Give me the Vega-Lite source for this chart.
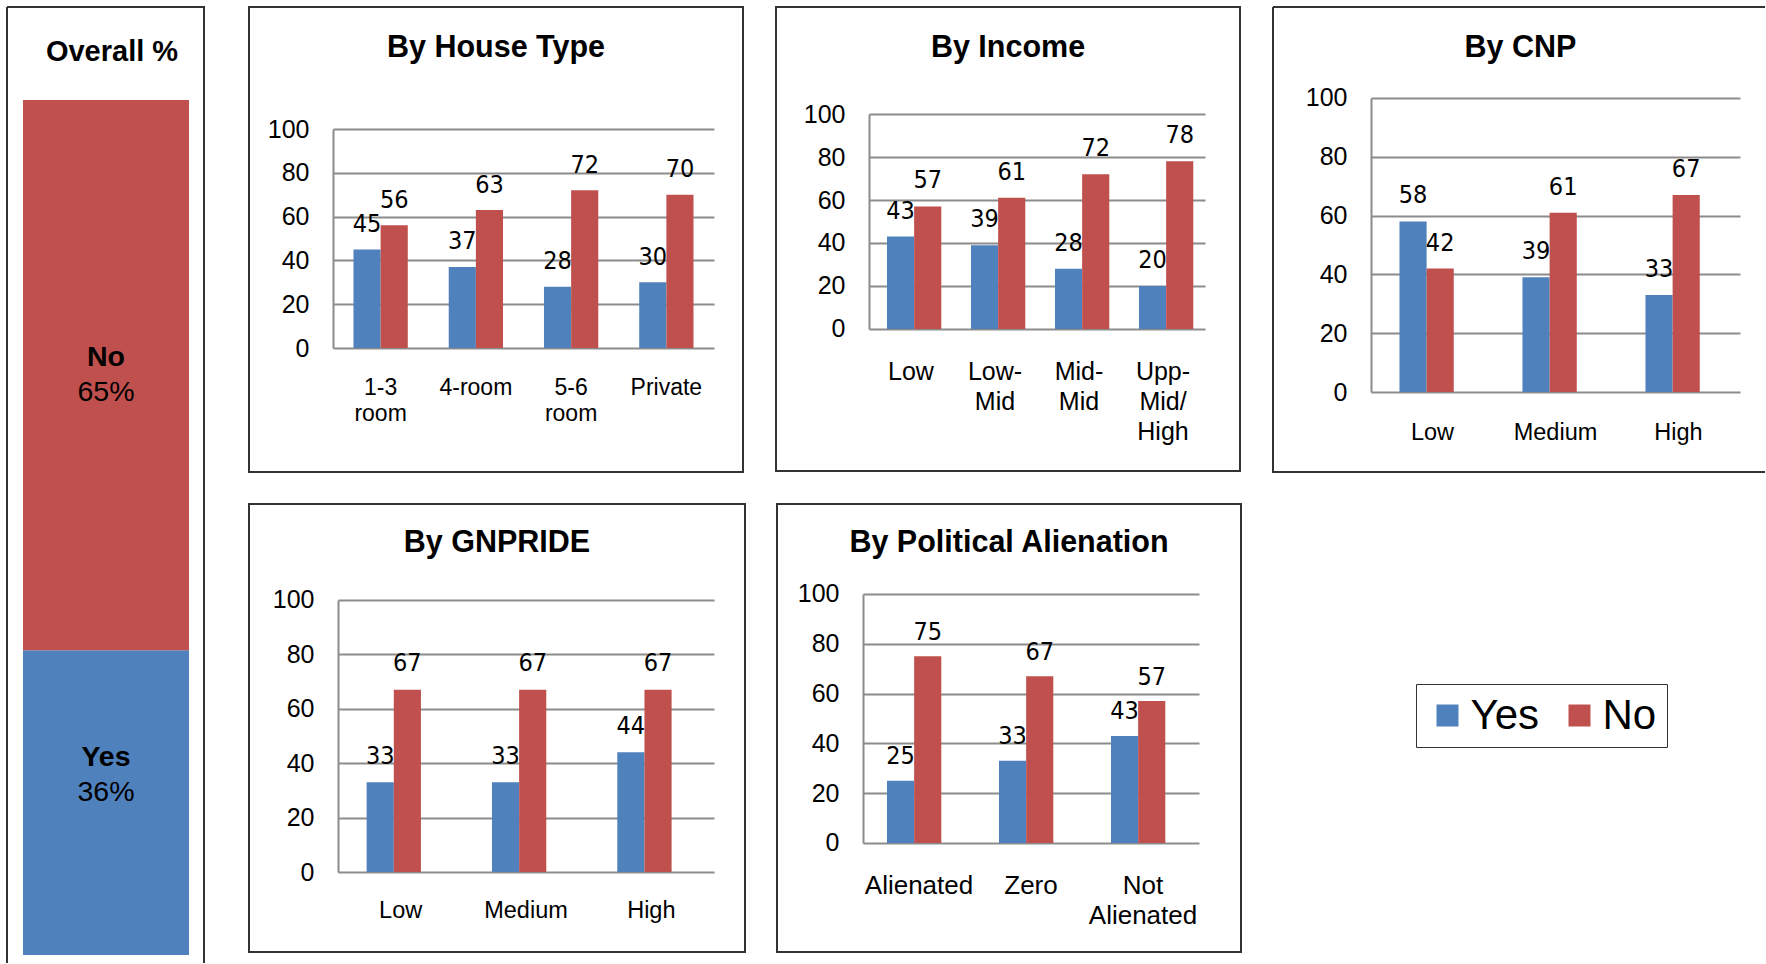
{
  "$schema": "https://vega.github.io/schema/vega-lite/v6.json",
  "padding": {"left": 6, "top": 6, "right": 0, "bottom": 0},
  "background": "white",
  "config": {
    "view": {"stroke": null},
    "font": "Liberation Sans",
    "axis": {"domainColor": "#8c8c8c", "domainWidth": 2, "gridColor": "#8c8c8c", "gridWidth": 2, "ticks": false, "tickSize": 0, "labelColor": "#000", "labelFont": "Liberation Sans", "labelFontSize": 25, "labelOverlap": false, "title": null},
    "axisY": {"labelPadding": 24, "grid": true},
    "axisX": {"labelAngle": 0, "grid": false, "domain": false},
    "legend": {"direction": "horizontal", "symbolType": "square", "symbolSize": 484, "symbolStrokeWidth": 0, "labelFont": "Liberation Sans", "labelFontSize": 42, "labelColor": "#000", "labelOffset": 2, "columnPadding": 19, "padding": 10.5, "strokeColor": "#333333"}
  },
  "datasets": {
    "bars": [
      {"panel": "house", "category": "1-3 room", "series": "Yes", "value": 45},
      {"panel": "house", "category": "1-3 room", "series": "No", "value": 56},
      {"panel": "house", "category": "4-room", "series": "Yes", "value": 37},
      {"panel": "house", "category": "4-room", "series": "No", "value": 63},
      {"panel": "house", "category": "5-6 room", "series": "Yes", "value": 28},
      {"panel": "house", "category": "5-6 room", "series": "No", "value": 72},
      {"panel": "house", "category": "Private", "series": "Yes", "value": 30},
      {"panel": "house", "category": "Private", "series": "No", "value": 70},
      {"panel": "income", "category": "Low", "series": "Yes", "value": 43},
      {"panel": "income", "category": "Low", "series": "No", "value": 57},
      {"panel": "income", "category": "Low-Mid", "series": "Yes", "value": 39},
      {"panel": "income", "category": "Low-Mid", "series": "No", "value": 61},
      {"panel": "income", "category": "Mid-Mid", "series": "Yes", "value": 28},
      {"panel": "income", "category": "Mid-Mid", "series": "No", "value": 72},
      {"panel": "income", "category": "Upp-Mid/High", "series": "Yes", "value": 20},
      {"panel": "income", "category": "Upp-Mid/High", "series": "No", "value": 78},
      {"panel": "cnp", "category": "Low", "series": "Yes", "value": 58},
      {"panel": "cnp", "category": "Low", "series": "No", "value": 42},
      {"panel": "cnp", "category": "Medium", "series": "Yes", "value": 39},
      {"panel": "cnp", "category": "Medium", "series": "No", "value": 61},
      {"panel": "cnp", "category": "High", "series": "Yes", "value": 33},
      {"panel": "cnp", "category": "High", "series": "No", "value": 67},
      {"panel": "gnpride", "category": "Low", "series": "Yes", "value": 33},
      {"panel": "gnpride", "category": "Low", "series": "No", "value": 67},
      {"panel": "gnpride", "category": "Medium", "series": "Yes", "value": 33},
      {"panel": "gnpride", "category": "Medium", "series": "No", "value": 67},
      {"panel": "gnpride", "category": "High", "series": "Yes", "value": 44},
      {"panel": "gnpride", "category": "High", "series": "No", "value": 67},
      {"panel": "political", "category": "Alienated", "series": "Yes", "value": 25},
      {"panel": "political", "category": "Alienated", "series": "No", "value": 75},
      {"panel": "political", "category": "Zero", "series": "Yes", "value": 33},
      {"panel": "political", "category": "Zero", "series": "No", "value": 67},
      {"panel": "political", "category": "Not Alienated", "series": "Yes", "value": 43},
      {"panel": "political", "category": "Not Alienated", "series": "No", "value": 57}
    ],
    "overall": [
      {"category": "Overall", "series": "Yes", "value": 36},
      {"category": "Overall", "series": "No", "value": 65}
    ]
  },
  "spacing": 43,
  "hconcat": [
    {
      "width": 197,
      "height": 956,
      "view": {"stroke": "#333333", "strokeWidth": 2, "strokeDash": [1153, 197, 956, 0]},
      "layer": [
        {
          "data": {"values": [{"title": "Overall %"}]},
          "mark": {"type": "text", "fontSize": 29, "fontWeight": "bold", "baseline": "middle", "align": "center", "dx": 6.5},
          "encoding": {"y": {"datum": 106.67, "type": "quantitative", "scale": {"domain": [-0.945, 111.99], "nice": false, "zero": false}, "axis": null}, "text": {"field": "title"}}
        },
        {
          "data": {"name": "overall"},
          "transform": [{"stack": "value", "groupby": ["category"], "sort": [{"field": "series", "order": "descending"}], "as": ["v0", "v1"]}],
          "encoding": {
            "x": {"field": "category", "type": "nominal", "scale": {"paddingInner": 0, "paddingOuter": 0.0934, "align": 0.516}, "axis": null},
            "y": {"field": "v1", "type": "quantitative", "scale": {"domain": [-0.945, 111.99], "nice": false, "zero": false}, "axis": null}
          },
          "layer": [
            {"mark": "bar", "encoding": {"y2": {"field": "v0"}, "color": {"field": "series", "type": "nominal", "scale": {"domain": ["Yes", "No"], "range": ["#4F81BD", "#C0504D"]}, "legend": {"title": null, "orient": "none", "legendX": 1409, "legendY": 677}}}},
            {"transform": [{"filter": "datum.series == 'No'"}], "mark": {"type": "text", "fontSize": 28.5, "fontWeight": "bold", "baseline": "middle", "dy": 257}, "encoding": {"text": {"field": "series"}}},
            {"transform": [{"filter": "datum.series == 'No'"}], "mark": {"type": "text", "fontSize": 28.5, "baseline": "middle", "dy": 292, "text": {"expr": "datum.value + '%'"}}},
            {"transform": [{"filter": "datum.series == 'Yes'"}], "mark": {"type": "text", "fontSize": 28.5, "fontWeight": "bold", "baseline": "middle", "dy": 107}, "encoding": {"text": {"field": "series"}}},
            {"transform": [{"filter": "datum.series == 'Yes'"}], "mark": {"type": "text", "fontSize": 28.5, "baseline": "middle", "dy": 142, "text": {"expr": "datum.value + '%'"}}}
          ]
        }
      ]
    },
    {
      "spacing": 30,
      "vconcat": [
        {
          "spacing": 31,
          "hconcat": [
            {
              "width": 494,
              "height": 465,
              "view": {"stroke": "#333333", "strokeWidth": 2},
              "layer": [
                {
                  "data": {"values": [{"title": "By House Type"}]},
                  "mark": {"type": "text", "fontSize": 30.5, "fontWeight": "bold", "baseline": "middle", "align": "center"},
                  "encoding": {"y": {"datum": 136.99, "type": "quantitative", "scale": {"domain": [-56.62, 155.71], "nice": false, "zero": false}}, "text": {"field": "title"}}
                },
                {
                  "data": {"name": "bars"},
                  "transform": [{"filter": "datum.panel == 'house'"}],
                  "encoding": {
                    "x": {"field": "category", "type": "nominal", "sort": ["1-3 room", "4-room", "5-6 room", "Private"], "scale": {"paddingInner": 0.43, "paddingOuter": 0.8082, "align": 0.6786}, "axis": {"labelExpr": "split(datum.value, ' ')", "labelFontSize": 23, "labelLineHeight": 26, "labelPadding": 28, "offset": -124}},
                    "xOffset": {"field": "series", "type": "nominal", "sort": ["Yes", "No"], "scale": {"paddingInner": 0}},
                    "y": {"field": "value", "type": "quantitative", "scale": {"domain": [-56.62, 155.71], "nice": false, "zero": false}, "axis": {"values": [0, 20, 40, 60, 80, 100], "offset": -84, "gridDash": [0, 84, 381, 2000], "domainDash": [0, 124, 219, 2000]}}
                  },
                  "layer": [
                    {"mark": "bar", "encoding": {"color": {"field": "series", "type": "nominal", "scale": {"domain": ["Yes", "No"], "range": ["#4F81BD", "#C0504D"]}, "legend": {"title": null, "orient": "none", "legendX": 1409, "legendY": 677}}}},
                    {"mark": {"type": "text", "font": "'Liberation Sans Narrow', 'DejaVu Sans Condensed', 'Liberation Sans', sans-serif", "fontSize": 25, "baseline": "alphabetic", "dy": -17.5}, "encoding": {"text": {"field": "value", "type": "quantitative"}}}
                  ]
                }
              ]
            },
            {
              "width": 464,
              "height": 464,
              "view": {"stroke": "#333333", "strokeWidth": 2},
              "layer": [
                {
                  "data": {"values": [{"title": "By Income"}]},
                  "mark": {"type": "text", "fontSize": 30.5, "fontWeight": "bold", "baseline": "middle", "align": "center"},
                  "encoding": {"y": {"datum": 130.7, "type": "quantitative", "scale": {"domain": [-66.05, 149.77], "nice": false, "zero": false}}, "text": {"field": "title"}}
                },
                {
                  "data": {"name": "bars"},
                  "transform": [{"filter": "datum.panel == 'income'"}],
                  "encoding": {
                    "x": {"field": "category", "type": "nominal", "sort": ["Low", "Low-Mid", "Mid-Mid", "Upp-Mid/High"], "scale": {"paddingInner": 0.4286, "paddingOuter": 0.9762, "align": 0.6768}, "axis": {"labelExpr": "split(replace(replace(datum.value, '-', '-|'), '/', '/|'), '|')", "labelFontSize": 25, "labelLineHeight": 30, "labelPadding": 30, "offset": -142}},
                    "xOffset": {"field": "series", "type": "nominal", "sort": ["Yes", "No"], "scale": {"paddingInner": 0}},
                    "y": {"field": "value", "type": "quantitative", "scale": {"domain": [-66.05, 149.77], "nice": false, "zero": false}, "axis": {"values": [0, 20, 40, 60, 80, 100], "offset": -93, "gridDash": [0, 93, 336, 2000], "domainDash": [0, 142, 215, 2000]}}
                  },
                  "layer": [
                    {"mark": "bar", "encoding": {"color": {"field": "series", "type": "nominal", "scale": {"domain": ["Yes", "No"], "range": ["#4F81BD", "#C0504D"]}, "legend": {"title": null, "orient": "none", "legendX": 1409, "legendY": 677}}}},
                    {"mark": {"type": "text", "font": "'Liberation Sans Narrow', 'DejaVu Sans Condensed', 'Liberation Sans', sans-serif", "fontSize": 25, "baseline": "alphabetic", "dy": -18}, "encoding": {"text": {"field": "value", "type": "quantitative"}}}
                  ]
                }
              ]
            },
            {
              "width": 492,
              "height": 465,
              "view": {"stroke": "#333333", "strokeWidth": 2, "strokeDash": [492, 465, 957, 0]},
              "layer": [
                {
                  "data": {"values": [{"title": "By CNP"}]},
                  "mark": {"type": "text", "fontSize": 30.5, "fontWeight": "bold", "baseline": "middle", "align": "center", "dx": 1.5},
                  "encoding": {"y": {"datum": 117.0, "type": "quantitative", "scale": {"domain": [-27.21, 130.95], "nice": false, "zero": false}}, "text": {"field": "title"}}
                },
                {
                  "data": {"name": "bars"},
                  "transform": [{"filter": "datum.panel == 'cnp'"}],
                  "encoding": {
                    "x": {"field": "category", "type": "nominal", "sort": ["Low", "Medium", "High"], "scale": {"paddingInner": 0.463, "paddingOuter": 0.7315, "align": 0.7028}, "axis": {"labelFontSize": 23.5, "labelPadding": 28, "offset": -80}},
                    "xOffset": {"field": "series", "type": "nominal", "sort": ["Yes", "No"], "scale": {"paddingInner": 0}},
                    "y": {"field": "value", "type": "quantitative", "scale": {"domain": [-27.21, 130.95], "nice": false, "zero": false}, "axis": {"values": [0, 20, 40, 60, 80, 100], "offset": -98, "gridDash": [0, 98, 369, 2000], "domainDash": [0, 80, 294, 2000]}}
                  },
                  "layer": [
                    {"mark": "bar", "encoding": {"color": {"field": "series", "type": "nominal", "scale": {"domain": ["Yes", "No"], "range": ["#4F81BD", "#C0504D"]}, "legend": {"title": null, "orient": "none", "legendX": 1409, "legendY": 677}}}},
                    {"mark": {"type": "text", "font": "'Liberation Sans Narrow', 'DejaVu Sans Condensed', 'Liberation Sans', sans-serif", "fontSize": 25, "baseline": "alphabetic", "dy": -18}, "encoding": {"text": {"field": "value", "type": "quantitative"}}}
                  ]
                }
              ]
            }
          ]
        },
        {
          "spacing": 30,
          "hconcat": [
            {
              "width": 496,
              "height": 448,
              "view": {"stroke": "#333333", "strokeWidth": 2},
              "layer": [
                {
                  "data": {"values": [{"title": "By GNPRIDE"}]},
                  "mark": {"type": "text", "fontSize": 30.5, "fontWeight": "bold", "baseline": "middle", "align": "center"},
                  "encoding": {"y": {"datum": 120.96, "type": "quantitative", "scale": {"domain": [-29.41, 135.29], "nice": false, "zero": false}}, "text": {"field": "title"}}
                },
                {
                  "data": {"name": "bars"},
                  "transform": [{"filter": "datum.panel == 'gnpride'"}],
                  "encoding": {
                    "x": {"field": "category", "type": "nominal", "sort": ["Low", "Medium", "High"], "scale": {"paddingInner": 0.457, "paddingOuter": 0.7073, "align": 0.6636}, "axis": {"labelFontSize": 23.5, "labelPadding": 26, "offset": -80}},
                    "xOffset": {"field": "series", "type": "nominal", "sort": ["Yes", "No"], "scale": {"paddingInner": 0}},
                    "y": {"field": "value", "type": "quantitative", "scale": {"domain": [-29.41, 135.29], "nice": false, "zero": false}, "axis": {"values": [0, 20, 40, 60, 80, 100], "offset": -89, "gridDash": [0, 89, 376, 2000], "domainDash": [0, 80, 272, 2000]}}
                  },
                  "layer": [
                    {"mark": "bar", "encoding": {"color": {"field": "series", "type": "nominal", "scale": {"domain": ["Yes", "No"], "range": ["#4F81BD", "#C0504D"]}, "legend": {"title": null, "orient": "none", "legendX": 1409, "legendY": 677}}}},
                    {"mark": {"type": "text", "font": "'Liberation Sans Narrow', 'DejaVu Sans Condensed', 'Liberation Sans', sans-serif", "fontSize": 25, "baseline": "alphabetic", "dy": -18.5}, "encoding": {"text": {"field": "value", "type": "quantitative"}}}
                  ]
                }
              ]
            },
            {
              "width": 464,
              "height": 448,
              "view": {"stroke": "#333333", "strokeWidth": 2},
              "layer": [
                {
                  "data": {"values": [{"title": "By Political Alienation"}]},
                  "mark": {"type": "text", "fontSize": 30.5, "fontWeight": "bold", "baseline": "middle", "align": "center"},
                  "encoding": {"y": {"datum": 120.48, "type": "quantitative", "scale": {"domain": [-43.78, 136.14], "nice": false, "zero": false}}, "text": {"field": "title"}}
                },
                {
                  "data": {"name": "bars"},
                  "transform": [{"filter": "datum.panel == 'political'"}],
                  "encoding": {
                    "x": {"field": "category", "type": "nominal", "sort": ["Alienated", "Zero", "Not Alienated"], "scale": {"paddingInner": 0.4286, "paddingOuter": 0.7857, "align": 0.625}, "axis": {"labelExpr": "split(datum.value, ' ')", "labelFontSize": 26, "labelLineHeight": 30, "labelPadding": 29, "offset": -109}},
                    "xOffset": {"field": "series", "type": "nominal", "sort": ["Yes", "No"], "scale": {"paddingInner": 0}},
                    "y": {"field": "value", "type": "quantitative", "scale": {"domain": [-43.78, 136.14], "nice": false, "zero": false}, "axis": {"values": [0, 20, 40, 60, 80, 100], "offset": -86, "gridDash": [0, 86, 336, 2000], "domainDash": [0, 109, 249, 2000]}}
                  },
                  "layer": [
                    {"mark": "bar", "encoding": {"color": {"field": "series", "type": "nominal", "scale": {"domain": ["Yes", "No"], "range": ["#4F81BD", "#C0504D"]}, "legend": {"title": null, "orient": "none", "legendX": 1409, "legendY": 677}}}},
                    {"mark": {"type": "text", "font": "'Liberation Sans Narrow', 'DejaVu Sans Condensed', 'Liberation Sans', sans-serif", "fontSize": 25, "baseline": "alphabetic", "dy": -16.5}, "encoding": {"text": {"field": "value", "type": "quantitative"}}}
                  ]
                }
              ]
            }
          ]
        }
      ]
    }
  ]
}
